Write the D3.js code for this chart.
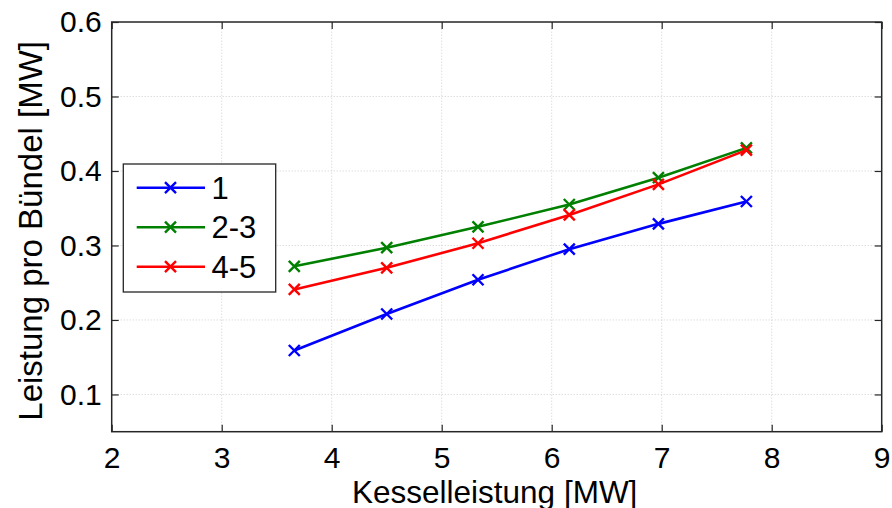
<!DOCTYPE html>
<html>
<head>
<meta charset="utf-8">
<script src="https://cdn.jsdelivr.net/npm/d3@7"></script>
<style>
  html, body { margin: 0; padding: 0; background: #fff; }
  svg { display: block; font-family: "Liberation Sans", Arial, sans-serif; }
</style>
</head>
<body>
<div id="chart"></div>
<script>
// data
const kessel = [3.66, 4.50, 5.33, 6.16, 6.97, 7.77];
const bundle1 = [0.159, 0.208, 0.254, 0.295, 0.329, 0.359];
const bundle23 = [0.272, 0.297, 0.325, 0.355, 0.391, 0.431];
const bundle45 = [0.241, 0.270, 0.303, 0.341, 0.382, 0.428];
const seriesNames = ["1", "2-3", "4-5"];
const seriesColors = ["#0000ff", "#008000", "#ff0000"];
const xTicks = [2, 3, 4, 5, 6, 7, 8, 9];
const yTicks = [0.1, 0.2, 0.3, 0.4, 0.5, 0.6];

const width = 892, height = 508;
const margin = { top: 22, right: 10.3, bottom: 76.3, left: 111.7 };

const svg = d3.select("#chart").append("svg")
  .attr("width", width).attr("height", height);

const x = d3.scaleLinear().domain([2, 9]).range([margin.left, width - margin.right]);
const y = d3.scaleLinear().domain([0.05, 0.6]).range([height - margin.bottom, margin.top]);

const x0 = margin.left, x1 = width - margin.right;
const y0 = height - margin.bottom, y1 = margin.top;

// grid (dotted, light)
const grid = svg.append("g").attr("stroke", "#cfcfcf").attr("stroke-width", 1)
  .attr("stroke-dasharray", "1,2");
grid.selectAll(".gx").data(xTicks.slice(1, -1)).join("line")
  .attr("x1", d => x(d)).attr("x2", d => x(d)).attr("y1", y0).attr("y2", y1);
grid.selectAll(".gy").data(yTicks.slice(0, -1)).join("line")
  .attr("y1", d => y(d)).attr("y2", d => y(d)).attr("x1", x0).attr("x2", x1);

// axes with inward ticks on all four sides
const tickLen = 7;
const axisB = svg.append("g").attr("transform", `translate(0,${y0})`)
  .call(d3.axisBottom(x).tickValues(xTicks).tickFormat(d3.format("d"))
    .tickSizeInner(-tickLen).tickSizeOuter(0).tickPadding(15));
const axisT = svg.append("g").attr("transform", `translate(0,${y1})`)
  .call(d3.axisTop(x).tickValues(xTicks).tickSizeInner(-tickLen).tickSizeOuter(0).tickFormat(""));
const axisL = svg.append("g").attr("transform", `translate(${x0},0)`)
  .call(d3.axisLeft(y).tickValues(yTicks).tickFormat(d3.format(".1f"))
    .tickSizeInner(-tickLen).tickSizeOuter(0).tickPadding(10));
const axisR = svg.append("g").attr("transform", `translate(${x1},0)`)
  .call(d3.axisRight(y).tickValues(yTicks).tickSizeInner(-tickLen).tickSizeOuter(0).tickFormat(""));

[axisB, axisT, axisL, axisR].forEach(g => {
  g.select(".domain").remove();
  g.selectAll("line").attr("stroke", "#262626").attr("stroke-width", 1.2);
  g.selectAll("text").attr("fill", "#000").style("font-size", "30px")
    .style("font-family", "'Liberation Sans', Arial, sans-serif");
});

// box
svg.append("rect").attr("x", x0).attr("y", y1).attr("width", x1 - x0).attr("height", y0 - y1)
  .attr("fill", "none").attr("stroke", "#262626").attr("stroke-width", 1.5);

// series
const allSeries = [bundle1, bundle23, bundle45];
const line = d3.line().x((d, i) => x(kessel[i])).y(d => y(d));
const xMark = s => `M${-s},${-s}L${s},${s}M${-s},${s}L${s},${-s}`;

allSeries.forEach((vals, k) => {
  svg.append("path").datum(vals).attr("d", line)
    .attr("fill", "none").attr("stroke", seriesColors[k]).attr("stroke-width", 2.6);
  svg.append("g").selectAll("path").data(vals).join("path")
    .attr("transform", (d, i) => `translate(${x(kessel[i])},${y(d)})`)
    .attr("d", xMark(5.5)).attr("stroke", seriesColors[k]).attr("stroke-width", 2.4).attr("fill", "none");
});

// legend
const leg = svg.append("g");
leg.append("rect").attr("x", 123.3).attr("y", 164).attr("width", 152.4).attr("height", 128)
  .attr("fill", "#fff").attr("stroke", "#262626").attr("stroke-width", 1.3);
seriesNames.forEach((name, k) => {
  const ry = 187.7 + k * 39.5;
  leg.append("line").attr("x1", 136.7).attr("x2", 205).attr("y1", ry).attr("y2", ry)
    .attr("stroke", seriesColors[k]).attr("stroke-width", 2.6);
  leg.append("path").attr("transform", `translate(170.5,${ry})`).attr("d", xMark(5.5))
    .attr("stroke", seriesColors[k]).attr("stroke-width", 2.4);
  leg.append("text").attr("x", 211.5).attr("y", ry).attr("dy", "0.36em")
    .style("font-size", "31px").text(name);
});

// axis labels
svg.append("text").attr("x", (x0 + x1) / 2 - 2).attr("y", 503)
  .attr("text-anchor", "middle").style("font-size", "31.5px").text("Kesselleistung [MW]");
svg.append("text").attr("transform", `translate(42,${(y0 + y1) / 2 + 4}) rotate(-90)`)
  .attr("text-anchor", "middle").style("font-size", "33px").text("Leistung pro Bündel [MW]");
</script>
</body>
</html>
